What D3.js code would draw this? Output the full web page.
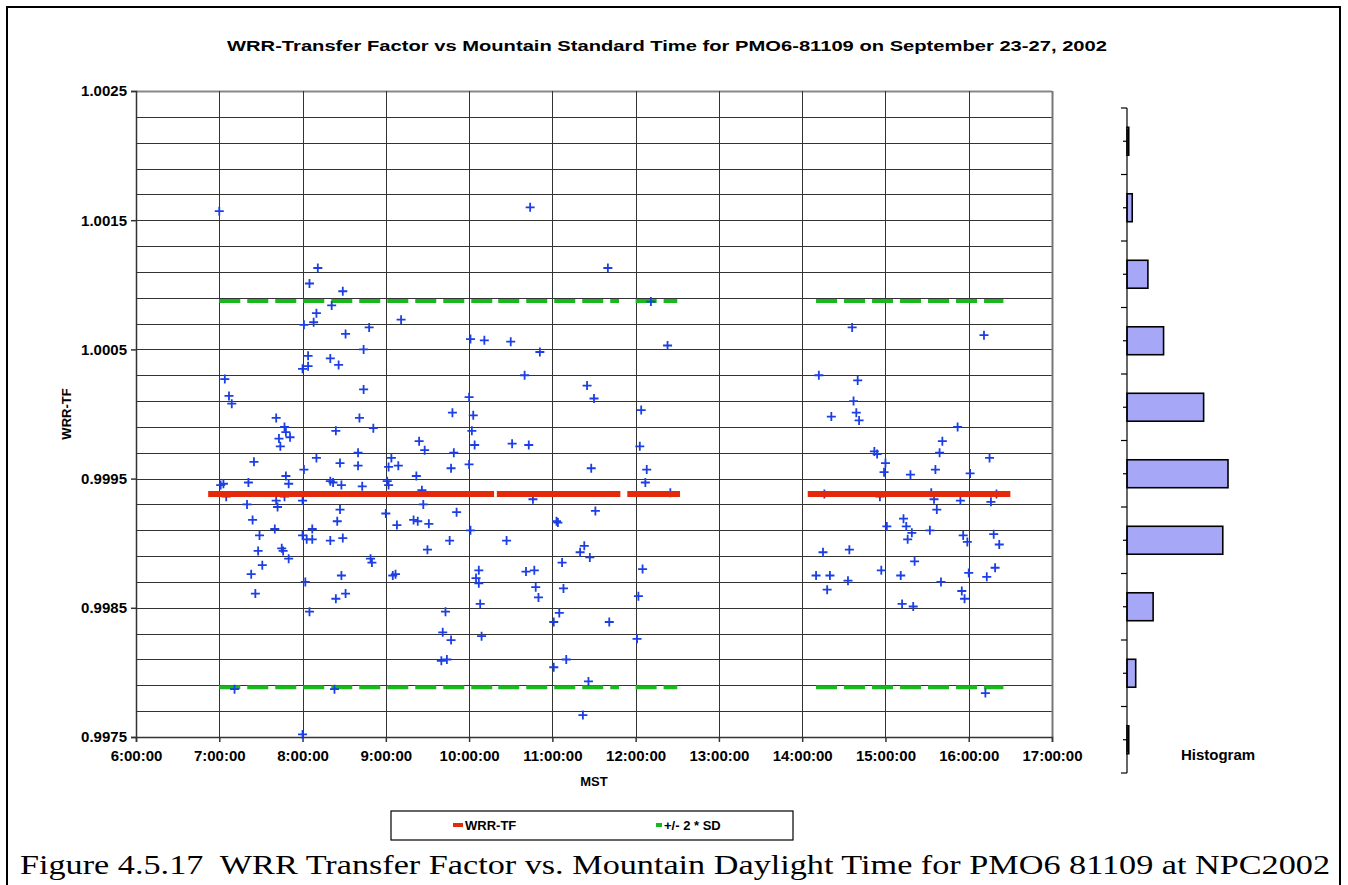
<!DOCTYPE html>
<html>
<head>
<meta charset="utf-8">
<script src="https://cdn.jsdelivr.net/npm/d3@7"></script>
<style>
body{margin:0;background:#fff}
svg text{font-family:Arial,"Liberation Sans",sans-serif;font-weight:bold;fill:#000}
</style>
</head>
<body>
<svg id="chart" width="1348" height="885"></svg>
<script>
var width=1348,
    height=885;

const chartTitle="WRR-Transfer Factor vs Mountain Standard Time for PMO6-81109 on September 23-27, 2002";
const caption="Figure 4.5.17  WRR Transfer Factor vs. Mountain Daylight Time for PMO6 81109 at NPC2002";

// axis ticks
const hourTicks=[6,7,8,9,10,11,12,13,14,15,16,17];
const yTicks=[0.9975,0.9985,0.9995,1.0005,1.0015,1.0025];
const yGridStep=0.0002;

// mean and +/- 2 SD
const meanTF=0.99938;
const sdLimits=[1.000874,0.997886];
const meanSegments=[["6:52","10:18"],["10:20","11:49"],["11:54","12:32"],["14:04","16:30"]];
const sdSegments=[["7:00","10:19"],["10:21","11:48"],["12:00","12:30"],["14:10","16:25"]];

// histogram (top bin first)
const histCounts=[1,3,12,21,44,58,55,15,5,1];

// measurements: MST, WRR transfer factor
const points=[
["7:00",1.00157],["7:04",1.00027],["7:07",1.00014],["7:09",1.00008],["7:25",0.99963],
["7:01",0.99945],["7:03",0.99946],["7:05",0.99936],["7:21",0.99947],["7:20",0.99930],
["7:24",0.99918],["7:29",0.99906],["7:28",0.99894],["7:31",0.99883],["7:23",0.99876],
["7:26",0.99861],["7:11",0.99787],["7:41",0.99997],["7:47",0.99990],["7:48",0.99986],
["7:43",0.99981],["7:44",0.99975],["7:51",0.99982],["7:48",0.99952],["7:50",0.99946],
["7:47",0.99936],["7:41",0.99933],["7:42",0.99928],["7:40",0.99911],["7:45",0.99896],
["7:46",0.99894],["7:50",0.99888],["8:01",0.99957],["8:10",0.99966],["8:00",0.99933],
["8:00",0.99906],["8:03",0.99903],["8:07",0.99911],["8:07",0.99903],["8:02",0.99870],
["8:05",0.99847],["8:00",0.99752],["8:11",1.00113],["8:05",1.00101],["8:29",1.00095],
["8:21",1.00084],["8:10",1.00078],["8:01",1.00069],["8:08",1.00071],["8:31",1.00062],
["8:48",1.00067],["9:11",1.00073],["8:44",1.00050],["8:04",1.00045],["8:04",1.00037],
["8:00",1.00035],["8:20",1.00043],["8:26",1.00038],["8:44",1.00019],["9:48",1.00001],
["8:41",0.99997],["8:51",0.99989],["8:24",0.99987],["9:24",0.99979],["9:28",0.99972],
["9:49",0.99970],["9:47",0.99958],["8:27",0.99962],["8:40",0.99970],["8:40",0.99960],
["9:04",0.99966],["9:02",0.99959],["9:09",0.99960],["9:22",0.99952],["8:20",0.99948],
["8:22",0.99947],["8:28",0.99945],["8:43",0.99944],["8:27",0.99926],["8:25",0.99917],
["8:20",0.99902],["8:29",0.99904],["8:28",0.99875],["8:24",0.99857],["8:31",0.99861],
["8:23",0.99787],["8:49",0.99888],["8:50",0.99885],["9:01",0.99948],["9:02",0.99945],
["9:00",0.99923],["9:08",0.99914],["9:05",0.99875],["9:07",0.99876],["9:26",0.99941],
["9:27",0.99930],["9:20",0.99918],["9:23",0.99917],["9:31",0.99915],["9:30",0.99895],
["9:51",0.99924],["9:46",0.99902],["9:43",0.99847],["9:41",0.99831],["9:47",0.99825],
["9:40",0.99809],["9:44",0.99810],["10:44",1.00160],["11:40",1.00113],["12:11",1.00087],
["10:01",1.00058],["10:11",1.00057],["10:30",1.00056],["12:23",1.00053],["10:51",1.00048],
["10:40",1.00030],["11:25",1.00022],["11:30",1.00012],["10:00",1.00013],["10:03",0.99999],
["10:02",0.99987],["10:04",0.99976],["10:31",0.99977],["10:43",0.99976],["12:04",1.00003],
["12:03",0.99975],["10:00",0.99961],["11:28",0.99958],["12:08",0.99957],["12:07",0.99947],
["12:25",0.99939],["10:46",0.99934],["11:31",0.99925],["11:03",0.99917],["11:04",0.99916],
["10:01",0.99910],["10:27",0.99902],["11:23",0.99898],["11:20",0.99893],["11:27",0.99889],
["11:07",0.99885],["12:05",0.99880],["10:07",0.99879],["10:05",0.99873],["10:07",0.99869],
["10:41",0.99878],["10:47",0.99879],["10:48",0.99866],["10:50",0.99858],["11:08",0.99865],
["12:02",0.99859],["10:08",0.99853],["11:05",0.99846],["11:01",0.99839],["11:41",0.99839],
["10:09",0.99828],["12:01",0.99826],["11:10",0.99810],["11:01",0.99804],["11:26",0.99793],
["11:22",0.99767],["14:36",1.00067],["16:11",1.00061],["14:12",1.00030],["14:40",1.00026],
["14:37",1.00010],["14:39",1.00001],["14:41",0.99995],["14:21",0.99998],["15:52",0.99990],
["15:41",0.99979],["14:52",0.99971],["14:54",0.99969],["15:39",0.99970],["16:15",0.99966],
["15:00",0.99962],["14:59",0.99955],["15:18",0.99953],["15:36",0.99957],["16:01",0.99954],
["14:16",0.99938],["14:56",0.99936],["15:33",0.99939],["15:35",0.99934],["15:54",0.99933],
["16:16",0.99932],["16:20",0.99938],["15:37",0.99926],["15:13",0.99919],["15:15",0.99913],
["15:01",0.99913],["15:19",0.99908],["15:16",0.99903],["15:32",0.99910],["15:56",0.99906],
["15:59",0.99901],["16:18",0.99907],["16:22",0.99899],["14:15",0.99893],["14:34",0.99895],
["15:21",0.99886],["14:57",0.99879],["14:10",0.99875],["14:20",0.99875],["14:18",0.99864],
["14:33",0.99871],["15:11",0.99875],["15:40",0.99870],["16:00",0.99877],["16:13",0.99874],
["16:19",0.99881],["15:55",0.99863],["15:57",0.99857],["15:12",0.99853],["15:20",0.99851],
["16:12",0.99784]
];

function toHours(s){
    let [h,m]=s.split(":").map(Number);
    return h+m/60;
}

var svg=d3.select("#chart");

// outer frame
svg.append("rect")
    .attr("x",7).attr("y",7)
    .attr("width",1333).attr("height",900)
    .attr("fill","none")
    .attr("stroke","#000")
    .attr("stroke-width",2);

var x=d3.scaleLinear().domain([6,17]).range([136,1052]);
var y=d3.scaleLinear().domain([0.9975,1.0025]).range([737,91]);

// grid
var gridY=d3.range(0,26).map(i=>0.9975+i*yGridStep);
svg.append("g").selectAll("line")
    .data(gridY)
    .enter().append("line")
    .attr("x1",x(6)).attr("x2",x(17))
    .attr("y1",d=>Math.round(y(d))+0.5).attr("y2",d=>Math.round(y(d))+0.5)
    .attr("stroke",(d,i)=>i==25?"#888":"#333")
    .attr("stroke-width",(d,i)=>i==25?2:1);

svg.append("g").selectAll("line")
    .data(hourTicks.slice(1))
    .enter().append("line")
    .attr("x1",d=>Math.round(x(d))+0.5).attr("x2",d=>Math.round(x(d))+0.5)
    .attr("y1",y(1.0025)).attr("y2",y(0.9975))
    .attr("stroke",(d,i)=>d==17?"#777":"#333")
    .attr("stroke-width",(d,i)=>d==17?2:1);

// axes
var yAxis=svg.append("g")
    .attr("transform",`translate(${x(6)},0)`)
    .call(d3.axisLeft(y).tickValues(yTicks).tickFormat(d3.format(".4f")).tickSize(5).tickPadding(4));
var xAxis=svg.append("g")
    .attr("transform",`translate(0,${y(0.9975)})`)
    .call(d3.axisBottom(x).tickValues(hourTicks).tickFormat(h=>h+":00:00").tickSize(5).tickPadding(8));
[yAxis,xAxis].forEach(a=>{
    a.selectAll("text").style("font-size","15px").style("font-family","Arial, 'Liberation Sans', sans-serif").style("font-weight","bold");
    a.selectAll("path,line").attr("stroke","#333").attr("stroke-width",1.5);
});

// +/- 2 SD dashed lines
var sdLines=[];
sdLimits.forEach(v=>sdSegments.forEach(s=>sdLines.push({v:v,a:toHours(s[0]),b:toHours(s[1])})));
svg.append("g").selectAll("line")
    .data(sdLines)
    .enter().append("line")
    .attr("x1",d=>x(d.a)).attr("x2",d=>x(d.b))
    .attr("y1",d=>y(d.v)).attr("y2",d=>y(d.v))
    .attr("stroke","#17b91c")
    .attr("stroke-width",4)
    .attr("stroke-dasharray","21,7");

// measurement crosses
svg.append("g").selectAll("path")
    .data(points)
    .enter().append("path")
    .attr("transform",d=>`translate(${x(toHours(d[0]))},${y(d[1])})`)
    .attr("d","M-4.5,0H4.5M0,-4.5V4.5")
    .attr("stroke","#1b3fe4")
    .attr("stroke-width",1.8)
    .attr("fill","none");

// mean WRR-TF
svg.append("g").selectAll("line")
    .data(meanSegments)
    .enter().append("line")
    .attr("x1",d=>x(toHours(d[0]))).attr("x2",d=>x(toHours(d[1])))
    .attr("y1",y(meanTF)).attr("y2",y(meanTF))
    .attr("stroke","#e52a0b")
    .attr("stroke-width",6);

// title and axis titles
svg.append("text")
    .attr("x",667).attr("y",51)
    .attr("text-anchor","middle")
    .style("font-size","15px")
    .attr("textLength",880).attr("lengthAdjust","spacingAndGlyphs")
    .text(chartTitle);

svg.append("text")
    .attr("x",(x(6)+x(17))/2).attr("y",786)
    .attr("text-anchor","middle")
    .style("font-size","13px")
    .text("MST");

svg.append("text")
    .attr("transform",`translate(71,414) rotate(-90)`)
    .attr("text-anchor","middle")
    .style("font-size","13px")
    .text("WRR-TF");

// histogram
var hy=d3.scaleBand().domain(d3.range(histCounts.length)).range([108,773]);
var hx=d3.scaleLinear().domain([0,58]).range([1127,1228]);
var hist=svg.append("g");
hist.selectAll("rect")
    .data(histCounts)
    .enter().append("rect")
    .attr("x",hx(0))
    .attr("y",(d,i)=>hy(i)+hy.bandwidth()*0.29)
    .attr("width",d=>hx(d)-hx(0))
    .attr("height",hy.bandwidth()*0.42)
    .attr("fill","#a7a7f7")
    .attr("stroke","#000")
    .attr("stroke-width",1.6);
hist.append("line")
    .attr("x1",hx(0)).attr("x2",hx(0))
    .attr("y1",108).attr("y2",773)
    .attr("stroke","#000").attr("stroke-width",1.2);
var hTicks=d3.range(0,histCounts.length*2+1).map(i=>108+i*hy.step()/2);
hist.selectAll(".htick")
    .data(hTicks)
    .enter().append("line")
    .attr("x1",(d,i)=>hx(0)-(i%2==0?6:4)).attr("x2",hx(0))
    .attr("y1",d=>d).attr("y2",d=>d)
    .attr("stroke","#000").attr("stroke-width",1.2);
svg.append("text")
    .attr("x",1218).attr("y",760)
    .attr("text-anchor","middle")
    .style("font-size","15px")
    .text("Histogram");

// legend
var legend=svg.append("g");
legend.append("rect")
    .attr("x",391).attr("y",811)
    .attr("width",402).attr("height",29)
    .attr("fill","#fff").attr("stroke","#000").attr("stroke-width",1.2);
var legendItems=[{label:"WRR-TF",color:"#e52a0b",x:453,w:10},{label:"+/- 2 * SD",color:"#17b91c",x:656,w:6}];
legend.selectAll("line")
    .data(legendItems)
    .enter().append("line")
    .attr("x1",d=>d.x).attr("x2",d=>d.x+d.w)
    .attr("y1",825).attr("y2",825)
    .attr("stroke",d=>d.color).attr("stroke-width",4);
legend.selectAll("text")
    .data(legendItems)
    .enter().append("text")
    .attr("x",d=>d.x+d.w+2).attr("y",830)
    .style("font-size","13px")
    .text(d=>d.label);

// figure caption
svg.append("text")
    .attr("x",20).attr("y",874)
    .style("font-family","'Times New Roman','Liberation Serif',serif")
    .style("font-weight","normal")
    .style("font-size","28px")
    .style("white-space","pre")
    .attr("textLength",1310).attr("lengthAdjust","spacingAndGlyphs")
    .text(caption);
</script>
</body>
</html>
